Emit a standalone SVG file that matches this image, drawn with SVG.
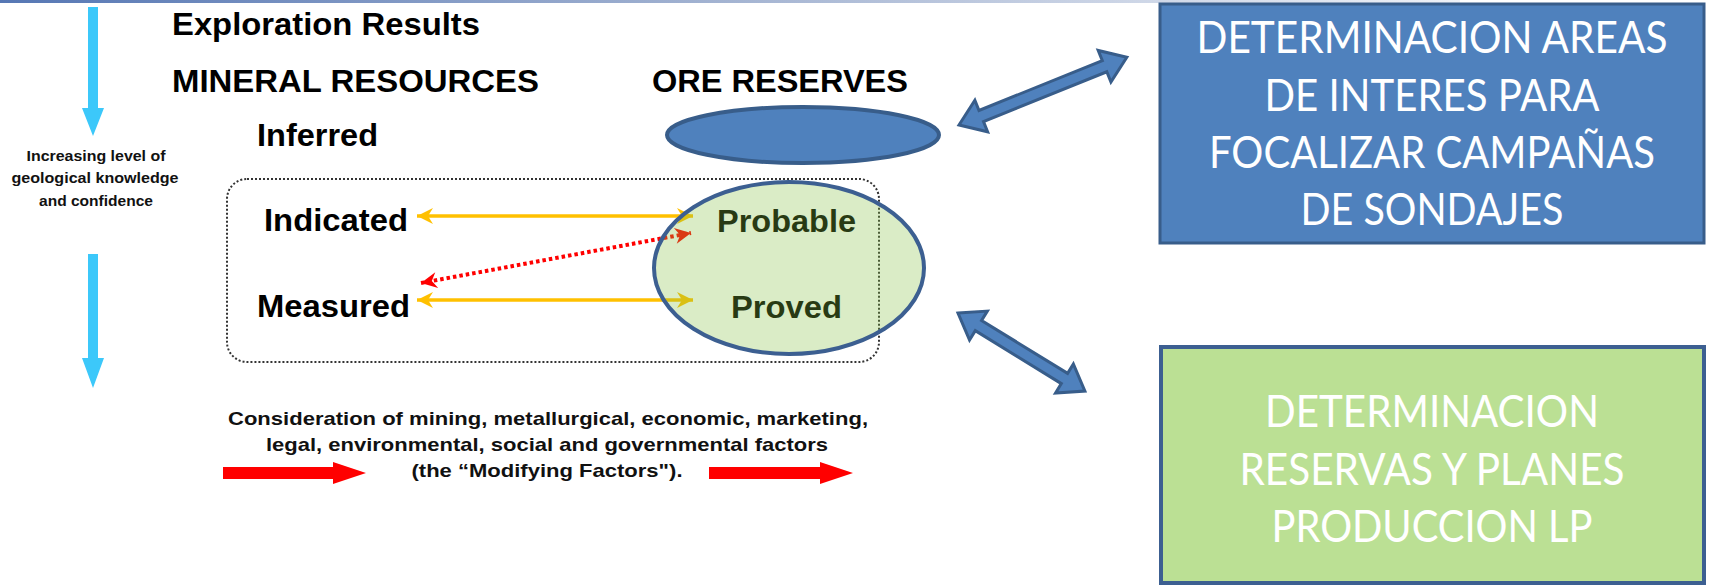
<svg xmlns="http://www.w3.org/2000/svg" width="1710" height="586" viewBox="0 0 1710 586">
<defs>
<style>
.hdr{font-family:"Liberation Sans",Arial,sans-serif;font-weight:bold;font-size:30.5px;fill:#000}
.sml{font-family:"Liberation Sans",Arial,sans-serif;font-weight:bold;font-size:15.5px;fill:#111;text-anchor:middle}
.bot{font-family:"Liberation Sans",Arial,sans-serif;font-weight:bold;font-size:18.5px;fill:#111;text-anchor:middle}
.box{font-family:Lato,"Open Sans",sans-serif;font-size:44px;fill:#fff;text-anchor:middle}
.cyan{fill:#3cc8fa}
.red{fill:#ff0000}
.barrow{fill:#4f81bd;stroke:#385d8a;stroke-width:3;stroke-linejoin:miter}
</style>
<linearGradient id="topbar" x1="0" y1="0" x2="1" y2="0">
<stop offset="0" stop-color="#5677b4"/>
<stop offset="0.5" stop-color="#a4b4d2"/>
<stop offset="1" stop-color="#eef1f7"/>
</linearGradient>
<marker id="yhead" viewBox="-17 -9 18 18" markerWidth="18" markerHeight="18" refX="0" refY="0" orient="auto-start-reverse" markerUnits="userSpaceOnUse">
<path d="M0,0 L-16,-8 L-11,0 L-16,8 Z" fill="#ffc000"/>
</marker>
<marker id="rhead" viewBox="-17 -9 18 18" markerWidth="18" markerHeight="18" refX="0" refY="0" orient="auto-start-reverse" markerUnits="userSpaceOnUse">
<path d="M0,0 L-16,-8 L-11,0 L-16,8 Z" fill="#ff0000"/>
</marker>
</defs>
<rect x="0" y="0" width="1710" height="586" fill="#fff"/>
<rect x="0" y="0" width="1460" height="3" fill="url(#topbar)"/>

<g id="confidence-arrow-top">
<path class="cyan" d="M88,7 H98 V108 H104 L93,136 L82,108 H88 Z"/>
</g>
<g id="confidence-label">
<text class="sml" x="96" y="161" textLength="139" lengthAdjust="spacingAndGlyphs">Increasing level of</text>
<text class="sml" x="95" y="183" textLength="167" lengthAdjust="spacingAndGlyphs">geological knowledge</text>
<text class="sml" x="96" y="206" textLength="114" lengthAdjust="spacingAndGlyphs">and confidence</text>
</g>
<g id="confidence-arrow-bottom">
<path class="cyan" d="M88,254 H98 V358 H104 L93,388 L82,358 H88 Z"/>
</g>

<g id="headings">
<text class="hdr" x="172" y="35" textLength="308" lengthAdjust="spacingAndGlyphs">Exploration Results</text>
<text class="hdr" x="172" y="92" textLength="367" lengthAdjust="spacingAndGlyphs">MINERAL RESOURCES</text>
<text class="hdr" x="652" y="92" textLength="256" lengthAdjust="spacingAndGlyphs">ORE RESERVES</text>
</g>

<g id="ore-ellipse">
<ellipse cx="803" cy="135" rx="136" ry="28" fill="#4f81bd" stroke="#385d8a" stroke-width="4"/>
</g>

<g id="inferred">
<text class="hdr" x="257" y="146" textLength="121" lengthAdjust="spacingAndGlyphs">Inferred</text>
</g>

<g id="resource-box">
<rect x="227" y="179" width="652" height="183" rx="20" ry="20" fill="none" stroke="#333" stroke-width="2" stroke-dasharray="2 2"/>
</g>

<g id="indicated"><text class="hdr" x="264" y="231" textLength="144" lengthAdjust="spacingAndGlyphs">Indicated</text></g>
<g id="measured"><text class="hdr" x="257" y="317" textLength="153" lengthAdjust="spacingAndGlyphs">Measured</text></g>
<g id="probable"><text class="hdr" x="717" y="232" textLength="139" lengthAdjust="spacingAndGlyphs">Probable</text></g>
<g id="proved"><text class="hdr" x="731" y="318" textLength="111" lengthAdjust="spacingAndGlyphs">Proved</text></g>

<g id="connectors">
<line x1="417" y1="216" x2="693" y2="216" stroke="#ffc000" stroke-width="3.5" marker-start="url(#yhead)" marker-end="url(#yhead)"/>
<line x1="417" y1="300" x2="693" y2="300" stroke="#ffc000" stroke-width="3.5" marker-start="url(#yhead)" marker-end="url(#yhead)"/>
<line x1="421" y1="283" x2="691" y2="233" stroke="#ff0000" stroke-width="4" stroke-dasharray="3.5 3" marker-start="url(#rhead)" marker-end="url(#rhead)"/>
<path class="barrow" transform="translate(959,125) rotate(-22)" d="M0,0 L24,-17 L24,-6 L157,-6 L157,-17 L181,0 L157,17 L157,6 L24,6 L24,17 Z"/>
<path class="barrow" transform="translate(958,313) rotate(31.6)" d="M0,0 L24,-17 L24,-6 L125,-6 L125,-17 L149,0 L125,17 L125,6 L24,6 L24,17 Z"/>
</g>

<g id="reserves-ellipse">
<ellipse cx="789" cy="268" rx="135" ry="86" fill="#83c141" fill-opacity="0.3" stroke="#3c5f91" stroke-width="4"/>
</g>

<g id="modifying-factors">
<text class="bot" x="548" y="425" textLength="640" lengthAdjust="spacingAndGlyphs">Consideration of mining, metallurgical, economic, marketing,</text>
<text class="bot" x="547" y="451" textLength="562" lengthAdjust="spacingAndGlyphs">legal, environmental, social and governmental factors</text>
<text class="bot" x="547" y="477" textLength="271" lengthAdjust="spacingAndGlyphs">(the “Modifying Factors").</text>
<path class="red" d="M223,467 H333 V462 L366,473 L333,484 V479 H223 Z"/>
<path class="red" d="M709,467 H820 V462 L853,473 L820,484 V479 H709 Z"/>
</g>

<g id="box-areas">
<rect x="1160" y="4" width="544" height="239" fill="#4f81bd" stroke="#385d8a" stroke-width="3"/>
<text class="box" x="1432" y="53" textLength="471" lengthAdjust="spacingAndGlyphs">DETERMINACION AREAS</text>
<text class="box" x="1432" y="111" textLength="335" lengthAdjust="spacingAndGlyphs">DE INTERES PARA</text>
<text class="box" x="1432" y="168" textLength="446" lengthAdjust="spacingAndGlyphs">FOCALIZAR CAMPAÑAS</text>
<text class="box" x="1432" y="225" textLength="263" lengthAdjust="spacingAndGlyphs">DE SONDAJES</text>
</g>

<g id="box-reservas">
<rect x="1161" y="347" width="543" height="236" fill="#bbe094" stroke="#3c5f91" stroke-width="4"/>
<text class="box" x="1432" y="427" textLength="334" lengthAdjust="spacingAndGlyphs">DETERMINACION</text>
<text class="box" x="1432" y="485" textLength="385" lengthAdjust="spacingAndGlyphs">RESERVAS Y PLANES</text>
<text class="box" x="1432" y="542" textLength="321" lengthAdjust="spacingAndGlyphs">PRODUCCION LP</text>
</g>
</svg>
